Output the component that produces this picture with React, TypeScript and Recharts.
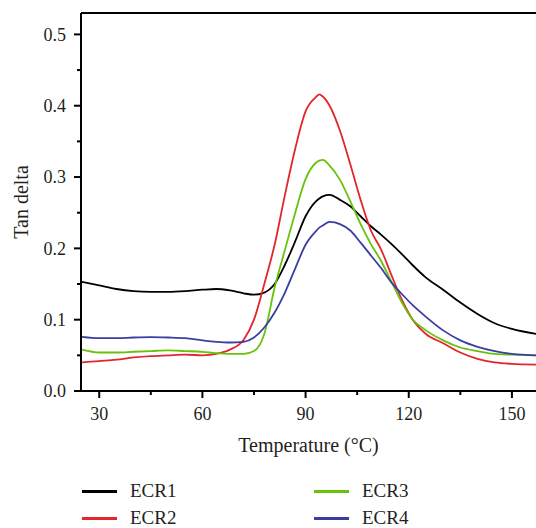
import { Legend, Line, LineChart, ReferenceLine, XAxis, YAxis } from "recharts";

const temperature = [25, 30, 35, 40, 45, 50, 55, 60, 64, 68, 72, 75, 78, 81, 84, 87, 90, 93, 94, 95, 97, 100, 103, 106, 109, 112, 115, 118, 121, 125, 130, 135, 140, 145, 150, 157];

const ecr1 = [0.153, 0.148, 0.143, 0.14, 0.139, 0.139, 0.14, 0.142, 0.143, 0.141, 0.137, 0.135, 0.138, 0.15, 0.177, 0.21, 0.245, 0.266, 0.27, 0.273, 0.275, 0.268, 0.259, 0.245, 0.231, 0.219, 0.206, 0.192, 0.177, 0.159, 0.142, 0.124, 0.108, 0.095, 0.087, 0.08];
const ecr2 = [0.04, 0.042, 0.044, 0.047, 0.049, 0.05, 0.051, 0.05, 0.052, 0.058, 0.072, 0.1, 0.15, 0.205, 0.275, 0.34, 0.392, 0.412, 0.416, 0.413, 0.4, 0.365, 0.318, 0.268, 0.225, 0.198, 0.162, 0.128, 0.101, 0.08, 0.067, 0.054, 0.045, 0.04, 0.038, 0.037];
const ecr3 = [0.058, 0.054, 0.054, 0.055, 0.056, 0.057, 0.056, 0.055, 0.053, 0.052, 0.052, 0.056, 0.08, 0.145, 0.198, 0.25, 0.297, 0.32, 0.323, 0.324, 0.316, 0.296, 0.266, 0.234, 0.206, 0.182, 0.153, 0.124, 0.101, 0.085, 0.071, 0.061, 0.056, 0.052, 0.051, 0.05];
const ecr4 = [0.076, 0.074, 0.074, 0.075, 0.0755, 0.075, 0.074, 0.071, 0.069, 0.068, 0.069, 0.075, 0.089, 0.11, 0.138, 0.172, 0.205, 0.224, 0.229, 0.232, 0.237, 0.234, 0.225, 0.208, 0.19, 0.172, 0.152, 0.136, 0.121, 0.104, 0.085, 0.071, 0.062, 0.056, 0.052, 0.05];

const xTicks = [30, 45, 60, 75, 90, 105, 120, 135, 150];
const yTicks = [0, 0.05, 0.1, 0.15, 0.2, 0.25, 0.3, 0.35, 0.4, 0.45, 0.5];

const series = [
  { key: "ECR1", values: ecr1, color: "#000000" },
  { key: "ECR2", values: ecr2, color: "#e2262b" },
  { key: "ECR3", values: ecr3, color: "#67c20c" },
  { key: "ECR4", values: ecr4, color: "#3a3ea0" }
];

const data = temperature.map((t, i) => {
  const row: Record<string, number> = { t };
  series.forEach((s) => (row[s.key] = s.values[i]));
  return row;
});

const FONT = "Liberation Serif, Times New Roman, serif";
const INK = "#231f20";

const XTick = (props: any) => {
  const { x, y, payload } = props;
  const major = payload.value % 30 === 0;
  return (
    <g>
      <line x1={x} x2={x} y1={y} y2={y + (major ? 7 : 4)} stroke="#000" strokeWidth={2} />
      {major && (
        <text x={x} y={y + 29} textAnchor="middle" style={{ fontFamily: FONT, fontSize: 18 }} fill={INK}>
          {payload.value}
        </text>
      )}
    </g>
  );
};

const YTick = (props: any) => {
  const { x, y, payload } = props;
  const major = Math.round(payload.value * 100) % 10 === 0;
  return (
    <g>
      <line x1={x - (major ? 7 : 4)} x2={x} y1={y} y2={y} stroke="#000" strokeWidth={2} />
      {major && (
        <text x={x - 15} y={y} dy="0.35em" textAnchor="end" style={{ fontFamily: FONT, fontSize: 18 }} fill={INK}>
          {payload.value.toFixed(1)}
        </text>
      )}
    </g>
  );
};

const legendOrder = ["ECR1", "ECR3", "ECR2", "ECR4"];

// legend laid out as two columns, like the figure
const LegendBox = () => (
  <div style={{ position: "relative", height: 52, width: 536, fontFamily: FONT, fontSize: 19, color: INK }}>
    {legendOrder.map((k, i) => {
      const s = series.find((d) => d.key === k)!;
      const left = i % 2 === 0 ? 82 : 314;
      const top = i < 2 ? 0 : 27;
      return (
        <div key={k} style={{ position: "absolute", left, top, height: 30, display: "flex", alignItems: "center" }}>
          <span style={{ display: "inline-block", width: 35, height: 3, background: s.color }} />
          <span style={{ marginLeft: 13, lineHeight: "16px" }}>{k}</span>
        </div>
      );
    })}
  </div>
);

export default function App() {
  return (
    <div style={{ position: "absolute", left: 0, top: 0, background: "#fff" }}>
      <LineChart width={536} height={528} data={data} margin={{ top: 13, right: 0, bottom: 0, left: 0 }}>
        <XAxis
          dataKey="t"
          type="number"
          domain={[24.7, 157]}
          ticks={xTicks}
          allowDataOverflow
          height={85}
          tickSize={0}
          tickMargin={0}
          tickLine={false}
          tick={<XTick />}
          axisLine={{ stroke: "#000", strokeWidth: 2 }}
          label={{ value: "Temperature (°C)", position: "insideBottom", offset: 24, fontFamily: FONT, fontSize: 20, fill: INK }}
        />
        <YAxis
          type="number"
          domain={[0, 0.53]}
          ticks={yTicks}
          allowDataOverflow
          width={81}
          tickSize={0}
          tickMargin={0}
          tickLine={false}
          tick={<YTick />}
          axisLine={{ stroke: "#000", strokeWidth: 2 }}
          label={{ value: "Tan delta", angle: -90, position: "insideLeft", offset: 21, fontFamily: FONT, fontSize: 20, fill: INK, style: { textAnchor: "middle" } }}
        />
        <ReferenceLine y={0.53} stroke="#000" strokeWidth={2} />
        {series.map((s) => (
          <Line
            key={s.key}
            dataKey={s.key}
            type="monotone"
            stroke={s.color}
            strokeWidth={1.8}
            dot={false}
            isAnimationActive={false}
          />
        ))}
        <Legend verticalAlign="bottom" content={<LegendBox />} wrapperStyle={{ left: 0, bottom: 0, width: 536 }} />
      </LineChart>
    </div>
  );
}
